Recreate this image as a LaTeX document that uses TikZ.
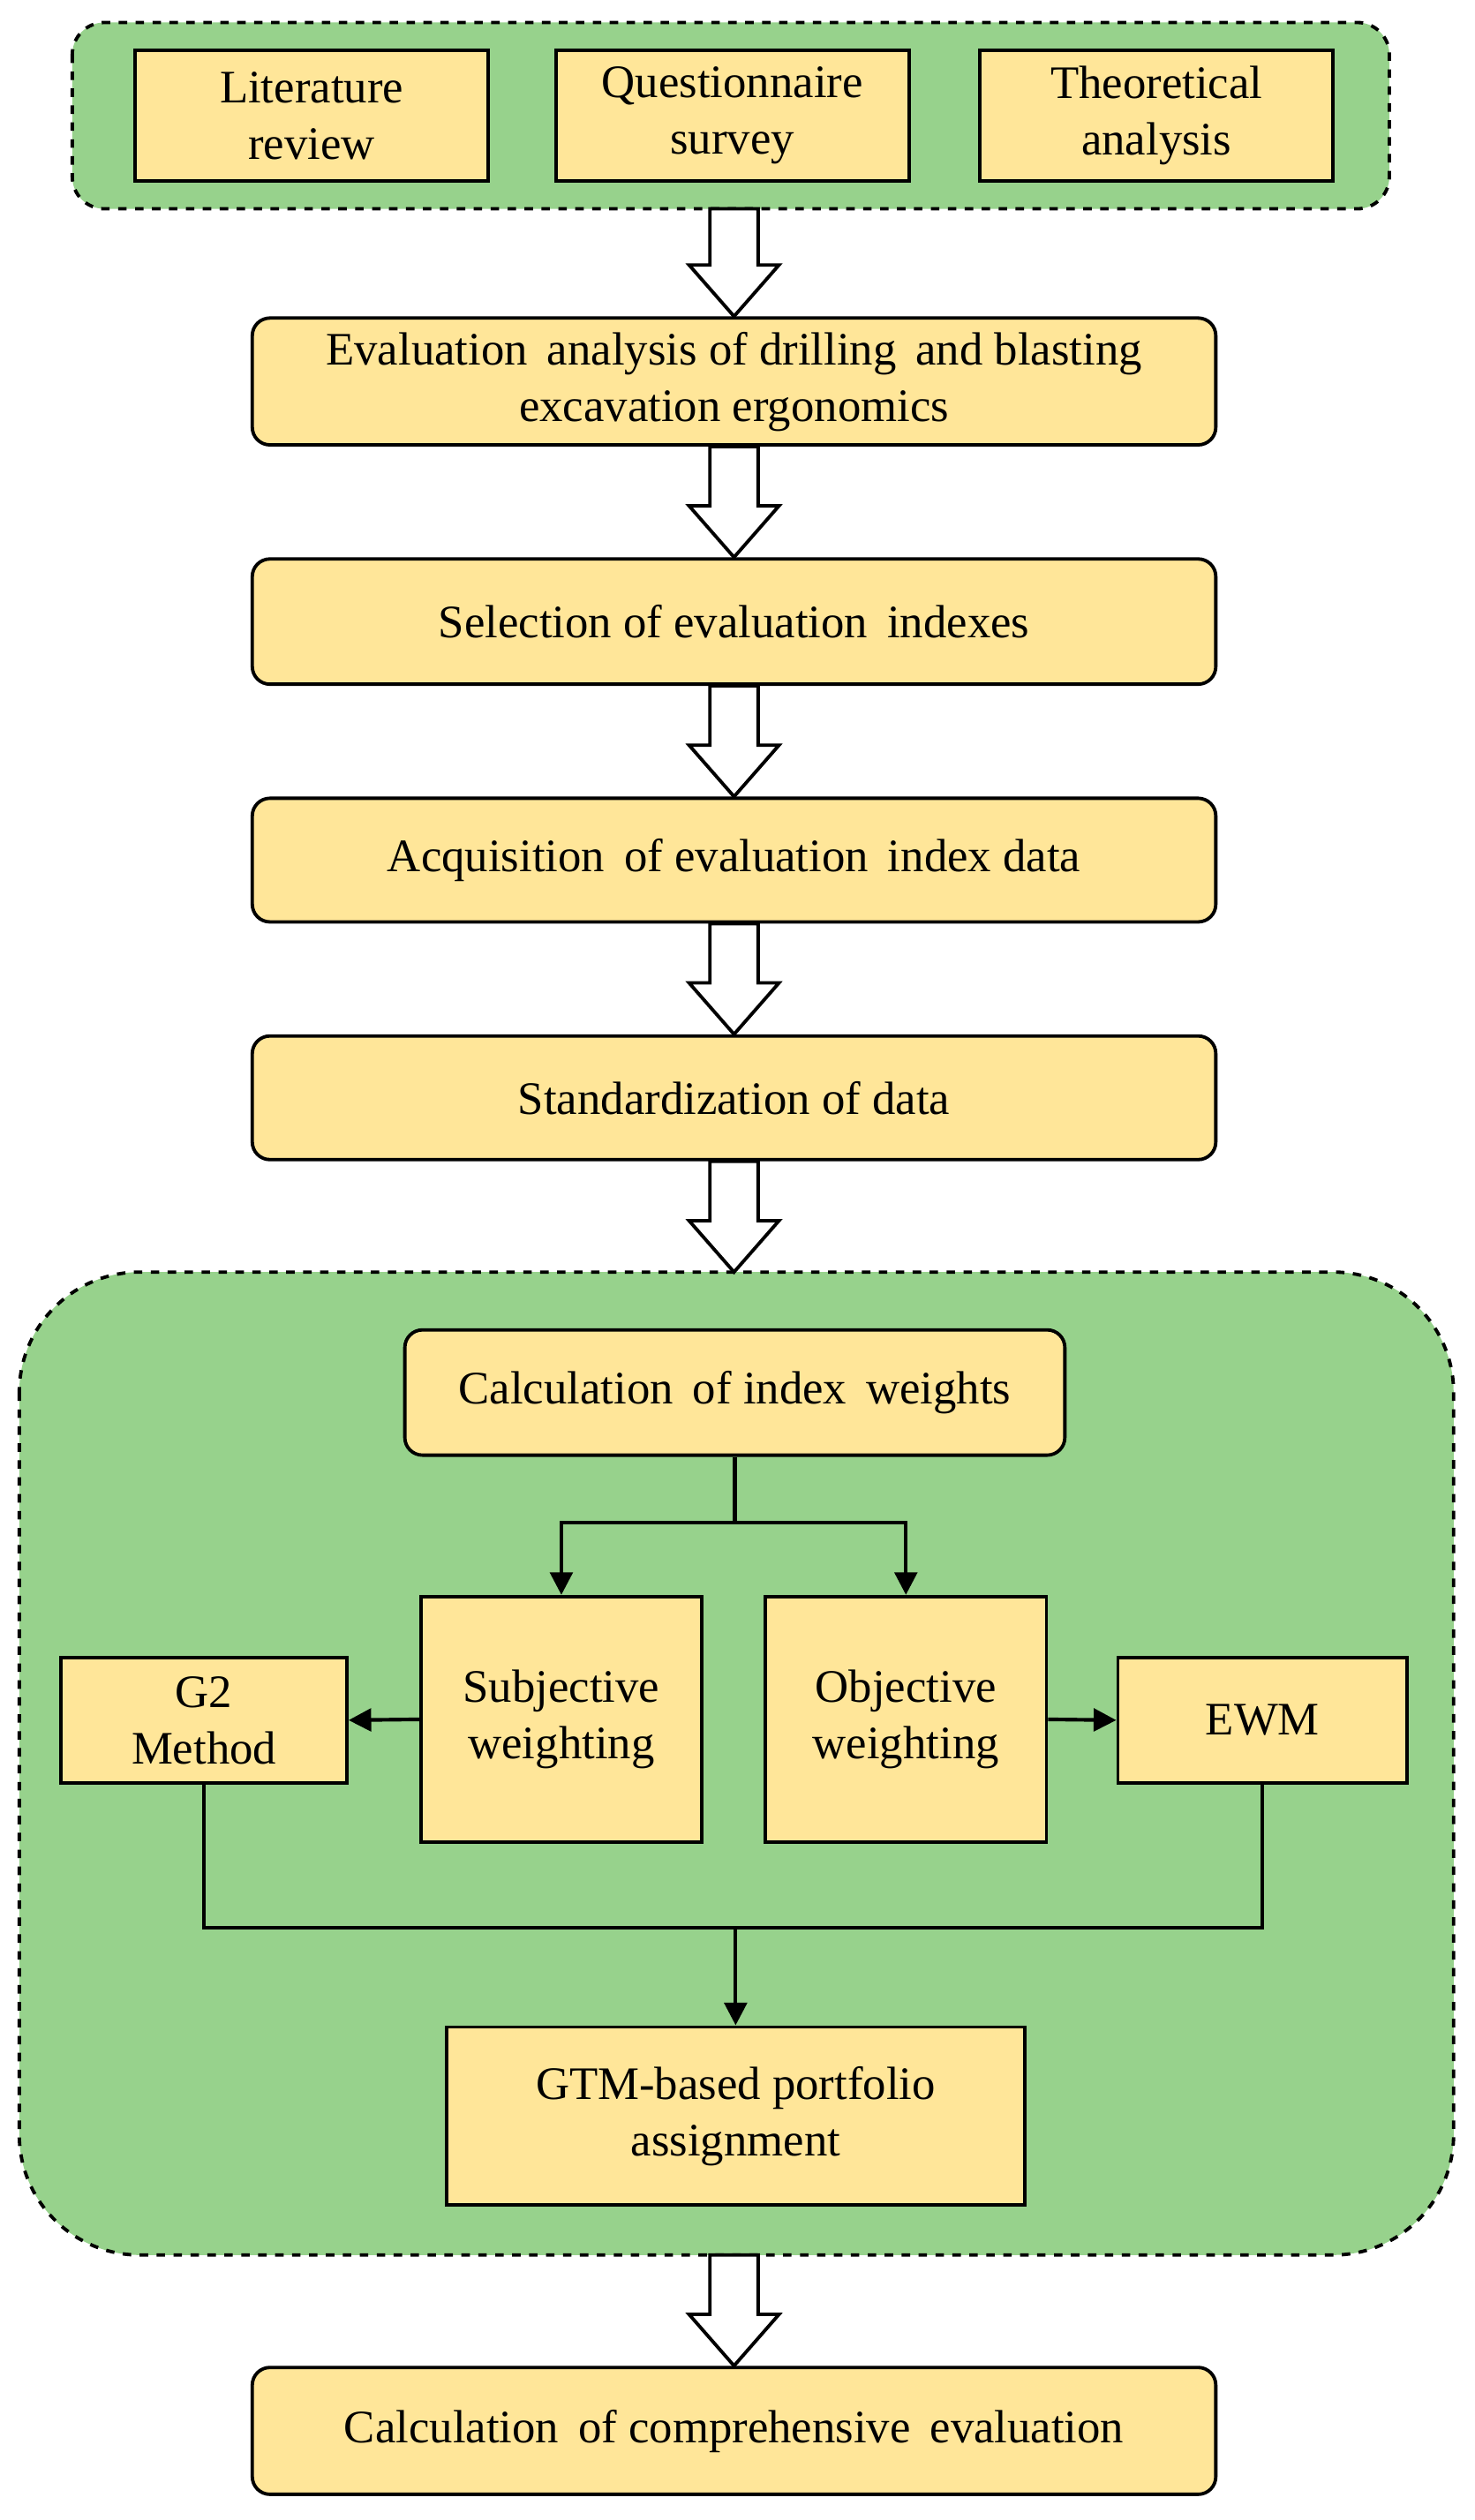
\documentclass[tikz,border=0pt]{standalone}
\usepackage{fontspec}
\setmainfont{Liberation Serif}
\usetikzlibrary{calc,arrows.meta}
\definecolor{yel}{RGB}{255,230,153}
\definecolor{grn}{RGB}{151,210,140}
\begin{document}
\begin{tikzpicture}[x=0.02cm,y=-0.02cm,
  box/.style={draw,line width=1.2pt,fill=yel,align=center,font=\fontsize{16.5}{20}\selectfont,inner sep=2pt},
  rbox/.style={box,rounded corners=0.22cm},
  grp/.style={draw,dashed,line width=1.2pt,fill=grn},
  hol/.style={draw,line width=1.2pt,fill=white},
  con/.style={draw,line width=1.3pt},
  arr/.style={con,-{Triangle[length=8pt,width=8pt]}}]
\useasboundingbox (0,0) rectangle (918,1569);
\newcommand{\harrow}[2]{\path[hol] ([xshift=-0.3cm]#1) -- ([xshift=-0.3cm,yshift=0.64cm]#2) -- ([xshift=-0.56cm,yshift=0.64cm]#2) -- (#2) -- ([xshift=0.56cm,yshift=0.64cm]#2) -- ([xshift=0.3cm,yshift=0.64cm]#2) -- ([xshift=0.3cm]#1) -- cycle;}
\path[grp,rounded corners=0.4cm] (45,14) rectangle (865,130);
\path[grp,rounded corners=1.5cm] (12,792) rectangle (905,1404);
\node[box,minimum width=4.4cm,minimum height=1.62cm] (lit) at (194,72) {Literature\\review};
\node[box,minimum width=4.4cm,minimum height=1.62cm] (que) at (456,72) {Questionnaire\\survey};
\node[box,minimum width=4.4cm,minimum height=1.62cm] (the) at (720,72) {Theoretical\\analysis};
\node[rbox,minimum width=12cm,minimum height=1.58cm] (b1) at (457,237.5) {Evaluation\, analysis of drilling\, and blasting\\excavation ergonomics};
\node[rbox,minimum width=12cm,minimum height=1.56cm] (b2) at (457,387) {Selection of evaluation\, indexes};
\node[rbox,minimum width=12cm,minimum height=1.54cm] (b3) at (457,535.5) {Acquisition\, of evaluation\, index data};
\node[rbox,minimum width=12cm,minimum height=1.54cm] (b4) at (457,683.5) {Standardization of data};
\node[rbox,minimum width=8.22cm,minimum height=1.56cm] (calc) at (457.5,867) {Calculation\, of index\, weights};
\node[box,minimum width=3.5cm,minimum height=3.06cm] (sub) at (349.5,1070.5) {Subjective\\weighting};
\node[box,minimum width=3.5cm,minimum height=3.06cm] (obj) at (564,1070.5) {Objective\\weighting};
\node[box,minimum width=3.56cm,minimum height=1.56cm] (g2) at (127,1071) {G2\\Method};
\node[box,minimum width=3.6cm,minimum height=1.56cm] (ewm) at (786,1071) {EWM};
\node[box,minimum width=7.2cm,minimum height=2.22cm] (gtm) at (458,1317.5) {GTM-based portfolio\\assignment};
\node[rbox,minimum width=12cm,minimum height=1.58cm] (fin) at (457,1513.5) {Calculation\, of comprehensive\, evaluation};
\coordinate (topbox) at (457,130);
\coordinate (gb) at (457,792);
\coordinate (gbt) at (457,1404);
\harrow{topbox}{b1.north}
\harrow{b1.south}{b2.north}
\harrow{b2.south}{b3.north}
\harrow{b3.south}{b4.north}
\harrow{b4.south}{gb}
\harrow{gbt}{fin.north}
\coordinate (split) at (457.5,948);
\draw[con] (calc.south) -- (split);
\draw[arr] (split) -| (sub.north);
\draw[arr] (split) -| (obj.north);
\draw[arr] (sub.west) -- (g2.east);
\draw[arr] (obj.east) -- (ewm.west);
\coordinate (join) at (458,1200);
\draw[con] (g2.south) |- (join) -| (ewm.south);
\draw[arr] (join) -- (gtm.north);
\end{tikzpicture}
\end{document}
